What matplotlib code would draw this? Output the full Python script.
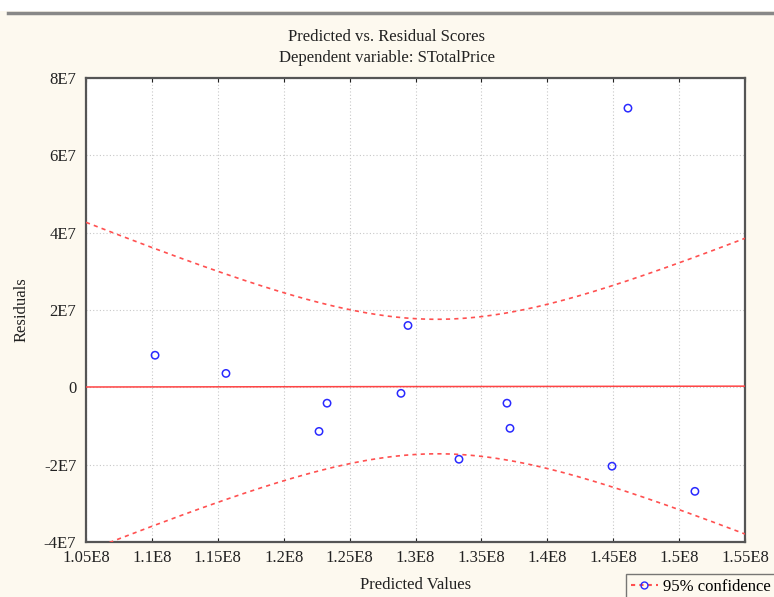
import numpy as np
import matplotlib
matplotlib.use("Agg")
import matplotlib.pyplot as plt
from matplotlib.lines import Line2D
from matplotlib.patches import Rectangle

# predicted values and residuals
predicted = np.array([1.1024e8, 1.1562e8, 1.2268e8, 1.2329e8, 1.2890e8, 1.2943e8,
                      1.3330e8, 1.3694e8, 1.3717e8, 1.4491e8, 1.4612e8, 1.5120e8])
residuals = np.array([8.3e6, 3.6e6, -11.4e6, -4.1e6, -1.55e6, 16.0e6,
                      -18.6e6, -4.1e6, -10.6e6, -20.4e6, 72.2e6, -26.9e6])

x_ticks = np.arange(1.05e8, 1.5501e8, 0.05e8)
x_tick_labels = ["1.05E8", "1.1E8", "1.15E8", "1.2E8", "1.25E8", "1.3E8",
                 "1.35E8", "1.4E8", "1.45E8", "1.5E8", "1.55E8"]
y_ticks = np.arange(-4e7, 8.01e7, 2e7)
y_tick_labels = ["-4E7", "-2E7", "0", "2E7", "4E7", "6E7", "8E7"]

T_975 = 2.228  # t quantile, df = n - 2 = 10

# regression of residuals on predicted, with 95% confidence band
n = len(predicted)
slope, intercept = np.polyfit(predicted, residuals, 1)
xs = np.linspace(x_ticks[0], x_ticks[-1], 300)
fit = intercept + slope * xs
s = np.sqrt(np.sum((residuals - (intercept + slope * predicted)) ** 2) / (n - 2))
sxx = np.sum((predicted - predicted.mean()) ** 2)
half = T_975 * s * np.sqrt(1 / n + (xs - predicted.mean()) ** 2 / sxx)

plt.rcParams["font.family"] = ["Liberation Serif", "DejaVu Serif"]
bg = "#fdf9ef"
fs = 12

fig = plt.figure(figsize=(7.74, 5.97), dpi=100, facecolor=bg)
# window strip at the very top
fig.patches.append(Rectangle((0, 1 - 11 / 597), 1, 11 / 597, transform=fig.transFigure,
                             facecolor="white", edgecolor="none", zorder=0))
fig.add_artist(Line2D([0.01, 1], [1 - 12.5 / 597] * 2, color="#888888", lw=2.5))

ax = fig.add_axes([86 / 774, 55 / 597, 659 / 774, 464 / 597])
ax.set_facecolor("white")

ax.plot(xs, fit, color="#ff4444", lw=1.1, zorder=3)
ax.plot(xs, fit + half, color="#ff5050", lw=1.2, ls=(0, (2.5, 2.5)), zorder=3)
ax.plot(xs, fit - half, color="#ff5050", lw=1.2, ls=(0, (2.5, 2.5)), zorder=3)
ax.scatter(predicted, residuals, s=28, facecolors="none", edgecolors="#2a2aff",
           linewidths=1.1, zorder=4)

ax.set_xlim(x_ticks[0], x_ticks[-1])
ax.set_ylim(y_ticks[0], y_ticks[-1])
ax.set_xticks(x_ticks)
ax.set_xticklabels(x_tick_labels)
ax.set_yticks(y_ticks)
ax.set_yticklabels(y_tick_labels)
ax.tick_params(axis="both", labelsize=fs, colors="#222222", length=3,
               direction="in", top=True)
ax.tick_params(axis="x", pad=6)
ax.tick_params(axis="y", length=0, pad=7)
ax.grid(True, color="#c8c8c8", ls=(0, (1, 2)), lw=0.8)
for side in ["left", "bottom", "right", "top"]:
    ax.spines[side].set_color("#555555")
    ax.spines[side].set_linewidth(1.6)

ax.set_xlabel("Predicted Values", fontsize=fs, color="#222222", labelpad=8)
ax.set_ylabel("Residuals", fontsize=fs, color="#222222", labelpad=10)
fig.text(0.5, 1 - 37 / 597, "Predicted vs. Residual Scores", ha="center", va="center",
         fontsize=fs, color="#222222")
fig.text(0.5, 1 - 58 / 597, "Dependent variable: STotalPrice", ha="center", va="center",
         fontsize=fs, color="#222222")

handle = Line2D([], [], color="#ff5050", ls=(0, (2, 2)), marker="o", mfc="none",
                mec="#2a2aff", ms=5)
leg = fig.legend([handle], ["95% confidence"], loc="upper left",
                 bbox_to_anchor=(626 / 774, 1 - 574 / 597), fontsize=fs,
                 frameon=True, fancybox=False, edgecolor="#555555", handlelength=1.6,
                 handletextpad=0.3, borderpad=0.3, borderaxespad=0)
leg.get_frame().set_facecolor(bg)
leg.get_frame().set_linewidth(1.0)

fig.savefig("out.png", dpi=100, facecolor=bg)
